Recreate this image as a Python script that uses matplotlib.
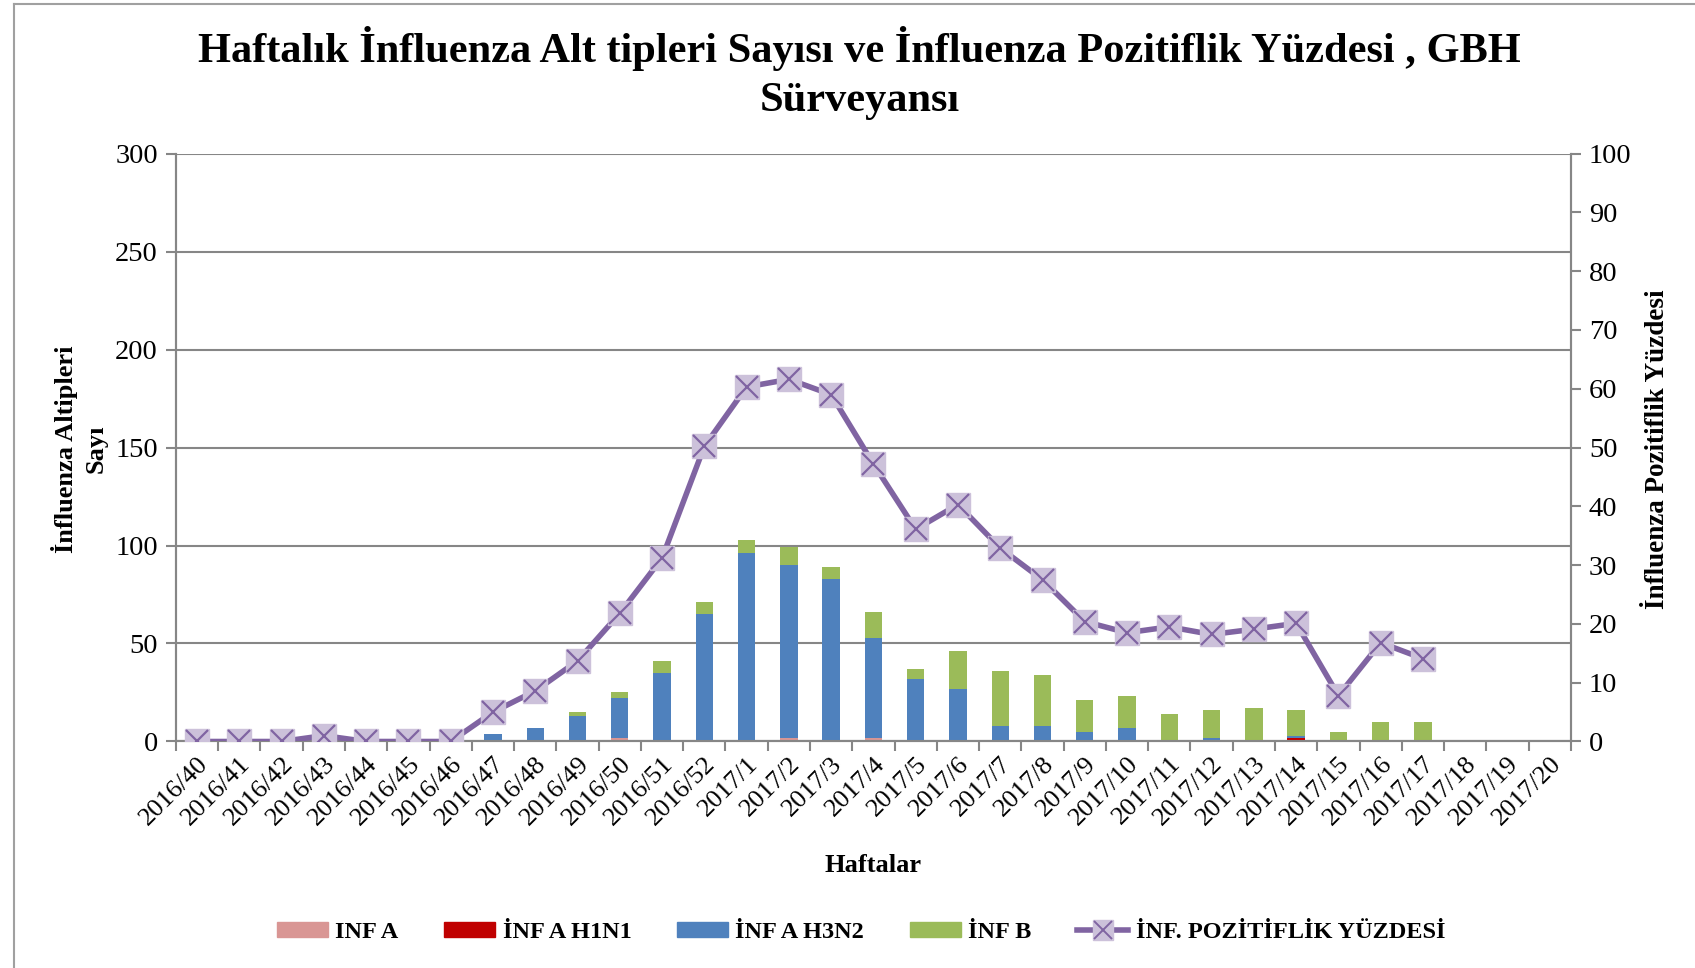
import matplotlib
matplotlib.use("Agg")
import matplotlib.pyplot as plt
import numpy as np
from matplotlib.patches import Patch
from matplotlib.lines import Line2D

weeks = ["2016/40", "2016/41", "2016/42", "2016/43", "2016/44", "2016/45", "2016/46",
         "2016/47", "2016/48", "2016/49", "2016/50", "2016/51", "2016/52",
         "2017/1", "2017/2", "2017/3", "2017/4", "2017/5", "2017/6", "2017/7",
         "2017/8", "2017/9", "2017/10", "2017/11", "2017/12", "2017/13", "2017/14",
         "2017/15", "2017/16", "2017/17", "2017/18", "2017/19", "2017/20"]
inf_a = [0, 0, 0, 0, 0, 0, 0, 0, 0, 0, 2, 0, 0, 0, 2, 0, 2, 0, 0, 1, 0, 1, 0, 0, 0, 0, 0, 0, 0, 0, 0, 0, 0]
inf_h1n1 = [0, 0, 0, 0, 0, 0, 0, 0, 0, 0, 0, 0, 0, 0, 0, 0, 0, 0, 0, 0, 1, 0, 0, 0, 0, 0, 2, 0, 0, 0, 0, 0, 0]
inf_h3n2 = [0, 0, 0, 0, 0, 0, 0, 4, 7, 13, 20, 35, 65, 96, 88, 83, 51, 32, 27, 7, 7, 4, 7, 1, 2, 0, 1, 0, 0, 0, 0, 0, 0]
inf_b = [0, 0, 0, 0, 0, 0, 0, 0, 0, 2, 3, 6, 6, 7, 9, 6, 13, 5, 19, 28, 26, 16, 16, 13, 14, 17, 13, 5, 10, 10, 0, 0, 0]
positivity = [0, 0, 0, 1, 0, 0, 0, 5, 8.6, 13.7, 21.8, 31.2, 50.2, 60.3, 61.6, 59.0, 47.2, 36.1, 40.3, 32.9,
              27.5, 20.4, 18.5, 19.5, 18.2, 19.1, 20.1, 7.8, 16.8, 14.1, np.nan, np.nan, np.nan]

serif = ["Liberation Serif", "DejaVu Serif"]
plt.rcParams['font.family'] = serif

fig = plt.figure(figsize=(16.95, 9.68), dpi=100)
ax = fig.add_axes([0.1038, 0.234, 0.8230, 0.6074])
ax2 = ax.twinx()

x = np.arange(len(weeks))
w = 0.41
c_a, c_h1, c_h3, c_b = "#D99694", "#C00000", "#4F81BD", "#9BBB59"
a = np.array(inf_a); h1 = np.array(inf_h1n1); h3 = np.array(inf_h3n2); b = np.array(inf_b)
ax.bar(x, a, w, color=c_a, zorder=3)
ax.bar(x, h1, w, bottom=a, color=c_h1, zorder=3)
ax.bar(x, h3, w, bottom=a + h1, color=c_h3, zorder=3)
ax.bar(x, b, w, bottom=a + h1 + h3, color=c_b, zorder=3)

lc = "#8064A2"
ax2.plot(x, positivity, color=lc, lw=4, zorder=4)
ax2.plot(x, positivity, ls="none", marker="s", ms=17, mfc="#CCC1DA", mec="#CCC1DA", zorder=5)
ax2.plot(x, positivity, ls="none", marker="x", ms=16, mew=1.6, color=lc, zorder=6)

ax.set_xlim(-0.5, len(weeks) - 0.5)
ax.set_ylim(0, 300)
ax2.set_ylim(0, 100)
ax.set_yticks(np.arange(0, 301, 50))
ax2.set_yticks(np.arange(0, 101, 10))
ax.yaxis.grid(True, color="#868686", lw=1.5, zorder=0)
ax.set_axisbelow(True)

gc = "#868686"
for axx in (ax, ax2):
    for s in axx.spines.values():
        s.set_color(gc)
        s.set_linewidth(1.5)
    axx.spines["top"].set_visible(False)
ax.set_xticks(x)
ax.set_xticklabels(weeks, rotation=45, ha="right", rotation_mode="anchor", fontsize=19)
ax.tick_params(axis="x", which="major", length=0, pad=8)
ax.set_xticks(np.arange(-0.5, len(weeks), 1), minor=True)
ax.tick_params(axis="x", which="minor", length=7, color=gc, width=1.5)
ax.tick_params(axis="y", labelsize=20.5, length=7, color=gc, width=1.5, pad=6)
ax2.tick_params(axis="y", labelsize=20.5, length=7, color=gc, width=1.5, pad=6)

fig.text(0.507, 0.950, "Haftalık İnfluenza Alt tipleri Sayısı ve İnfluenza Pozitiflik Yüzdesi , GBH",
         ha="center", va="center", fontsize=30.5, fontweight="bold")
fig.text(0.507, 0.896, "Sürveyansı", ha="center", va="center", fontsize=30.5, fontweight="bold")
fig.text(0.038, 0.536, "İnfluenza Altipleri", rotation=90, ha="center", va="center",
         fontsize=19, fontweight="bold")
fig.text(0.057, 0.536, "Sayı", rotation=90, ha="center", va="center",
         fontsize=19, fontweight="bold")
fig.text(0.978, 0.536, "İnfluenza Pozitiflik Yüzdesi", rotation=90, ha="center", va="center",
         fontsize=19.5, fontweight="bold")
fig.text(0.515, 0.106, "Haftalar", ha="center", va="center", fontsize=19, fontweight="bold")

handles = [Patch(color=c_a), Patch(color=c_h1), Patch(color=c_h3), Patch(color=c_b),
           (Line2D([], [], color=lc, lw=4),
            Line2D([], [], ls="none", marker="s", ms=14, mfc="#CCC1DA", mec="#CCC1DA"),
            Line2D([], [], ls="none", marker="x", ms=13, mew=1.4, color=lc))]
labels = ["INF A", "İNF A H1N1", "İNF A H3N2", "İNF B", "İNF. POZİTİFLİK YÜZDESİ"]
fig.legend(handles, labels, loc="center", bbox_to_anchor=(0.508, 0.037), ncol=5, frameon=False,
           prop={"weight": "bold", "size": 17.5}, handlelength=2.1, handleheight=0.6,
           columnspacing=1.88, handletextpad=0.3)

fig.add_artist(Line2D([0.008, 0.008], [0, 0.996], color="#A0A0A0", lw=1.5, transform=fig.transFigure))
fig.add_artist(Line2D([0.008, 1.0], [0.996, 0.996], color="#A0A0A0", lw=1.5, transform=fig.transFigure))

fig.savefig("out.png", dpi=100)
